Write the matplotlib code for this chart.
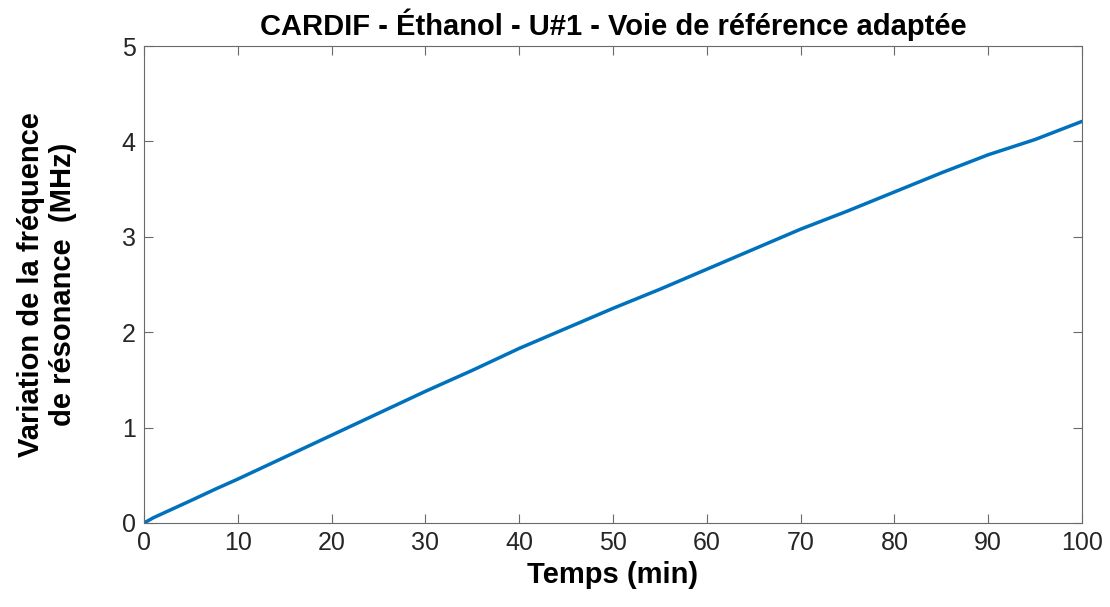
import matplotlib
matplotlib.use("Agg")
import matplotlib.pyplot as plt

# Resonance-frequency drift over time (ethanol, adapted reference channel)
time_min = [0, 1, 2, 3, 4, 5, 7.5, 10, 12.5, 15, 17.5, 20, 25, 30, 35, 40, 45, 50,
            55, 60, 65, 70, 75, 80, 85, 90, 95, 100]
delta_f_mhz = [0.0, 0.055, 0.10, 0.145, 0.19, 0.235, 0.35, 0.46, 0.575, 0.69, 0.805,
               0.92, 1.15, 1.38, 1.60, 1.83, 2.04, 2.25, 2.45, 2.66, 2.87, 3.08,
               3.27, 3.47, 3.67, 3.86, 4.02, 4.21]
x_ticks = list(range(0, 101, 10))
y_ticks = [0, 1, 2, 3, 4, 5]

plt.rcParams['font.family'] = ['Liberation Sans', 'DejaVu Sans']

fig = plt.figure(figsize=(11.1, 6.07), dpi=100)
ax = fig.add_axes([0.1297, 0.1384, 0.8451, 0.7858])

ax.plot(time_min, delta_f_mhz, color='#0072BD', linewidth=2.5,
        solid_capstyle='round', solid_joinstyle='round')

ax.set_xlim(0, 100)
ax.set_ylim(0, 5)
ax.set_xticks(x_ticks)
ax.set_yticks(y_ticks)

axis_gray = '#262626'
for side in ax.spines.values():
    side.set_color('#6a6a6a')
    side.set_linewidth(0.8)
ax.tick_params(direction='in', length=6.8, width=0.8, colors='#6a6a6a',
               labelcolor=axis_gray, labelsize=18, top=True, right=True,
               pad=6)

ax.set_title('CARDIF - Éthanol - U#1 - Voie de référence adaptée',
             fontsize=21, fontweight='bold', color='black', pad=8)
ax.set_xlabel('Temps (min)', fontsize=21, fontweight='bold', color='black',
              labelpad=4)
ax.set_ylabel('Variation de la fréquence\nde résonance  (MHz)', fontsize=21,
              fontweight='bold', color='black', labelpad=32, linespacing=1.2)

fig.savefig('out.png', dpi=100, facecolor='white')
